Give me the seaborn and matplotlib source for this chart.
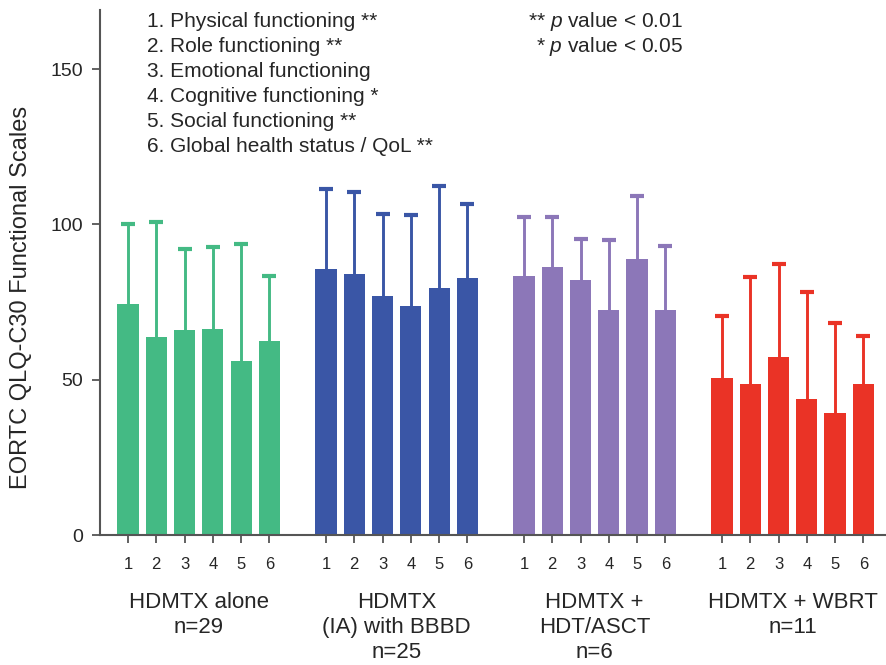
import numpy as np
import pandas as pd
import matplotlib
matplotlib.use("Agg")
import matplotlib.pyplot as plt
import matplotlib.transforms as mtransforms
import seaborn as sns

# Chart data
scales = [1, 2, 3, 4, 5, 6]
group_labels = ["HDMTX alone\nn=29", "HDMTX\n(IA) with BBBD\nn=25",
                "HDMTX +\nHDT/ASCT\nn=6", "HDMTX + WBRT\nn=11"]
alone_mean = [74.4, 63.8, 65.9, 66.4, 55.9, 62.5]
alone_upper = [100.0, 100.7, 92.1, 92.8, 93.8, 83.5]
bbbd_mean = [85.7, 84.0, 76.8, 73.6, 79.5, 82.8]
bbbd_upper = [111.3, 110.5, 103.3, 102.9, 112.5, 106.7]
asct_mean = [83.5, 86.3, 82.1, 72.3, 89.0, 72.3]
asct_upper = [102.5, 102.5, 95.3, 95.1, 109.0, 93.0]
wbrt_mean = [50.4, 48.6, 57.4, 43.9, 39.4, 48.6]
wbrt_upper = [70.6, 82.9, 87.3, 78.2, 68.4, 64.1]
colors = ["#44BA84", "#3A56A6", "#8C77B8", "#EA3326"]
legend_lines = ["1. Physical functioning **", "2. Role functioning **",
                "3. Emotional functioning", "4. Cognitive functioning *",
                "5. Social functioning **", "6. Global health status / QoL **"]
p_notes = ["** $p$ value < 0.01", "* $p$ value < 0.05"]

sns.set_style("ticks")
plt.rcParams["font.family"] = ["Liberation Sans", "DejaVu Sans"]
plt.rcParams["mathtext.fontset"] = "custom"
plt.rcParams["mathtext.it"] = "Liberation Sans:italic"
plt.rcParams["mathtext.rm"] = "Liberation Sans"

means = [alone_mean, bbbd_mean, asct_mean, wbrt_mean]
uppers = [alone_upper, bbbd_upper, asct_upper, wbrt_upper]

rows = []
for g, (m, u) in enumerate(zip(means, uppers)):
    for s, mv, uv in zip(scales, m, u):
        rows.append({"pos": g * 7 + s, "score": mv, "upper": uv, "group": g, "scale": s})
df = pd.DataFrame(rows)

fig = plt.figure(figsize=(8.86, 6.65), dpi=100)
ax = fig.add_axes([100 / 886, 130 / 665, 786 / 886, 525 / 665])

sns.barplot(data=df, x="pos", y="score", hue="group", palette=colors,
            native_scale=True, dodge=False, width=0.75, errorbar=None,
            legend=False, ax=ax, saturation=1, linewidth=0)

# one-sided (upper) SD bars
for g in range(4):
    sub = df[df["group"] == g]
    ax.vlines(sub["pos"], sub["score"], sub["upper"], color=colors[g],
              linewidth=2.1, zorder=0)
    ax.plot(sub["pos"], sub["upper"], ls="none", marker="_", markersize=10,
            markeredgewidth=3.0, color=colors[g], zorder=0)

ax.set_xlim(0.01, 27.8)
ax.set_ylim(0, 169)
ax.set_yticks([0, 50, 100, 150])
ax.set_xticks(df["pos"])
ax.set_xticklabels(df["scale"])
ax.tick_params(axis="y", labelsize=14, length=6, width=1.3, color="#555555", pad=6)
ax.tick_params(axis="x", labelsize=12, length=6, width=1.3, color="#555555", pad=10)
ax.set_xlabel("")
ax.set_ylabel("EORTC QLQ-C30 Functional Scales", fontsize=17)
ax.yaxis.set_label_coords(-0.086, 0.453)
sns.despine(ax=ax)
for side in ["left", "bottom"]:
    ax.spines[side].set_color("#555555")
    ax.spines[side].set_linewidth(1.5)

# group labels under the tick numbers
trans = mtransforms.blended_transform_factory(ax.transData, fig.transFigure)
for g, lab in enumerate(group_labels):
    for k, line in enumerate(lab.split("\n")):
        ax.text(g * 7 + 3.5, 1 - (608 + 25 * k) / 665, line, transform=trans,
                ha="center", va="baseline", fontsize=16, clip_on=False)

# scale legend and p-value notes
for i, line in enumerate(legend_lines):
    fig.text(147 / 886, 1 - (27 + 25 * i) / 665, line,
             ha="left", va="baseline", fontsize=15)
for i, line in enumerate(p_notes):
    fig.text(683 / 886, 1 - (27 + 25 * i) / 665, line,
             ha="right", va="baseline", fontsize=15)

fig.savefig("out.png", dpi=100)
